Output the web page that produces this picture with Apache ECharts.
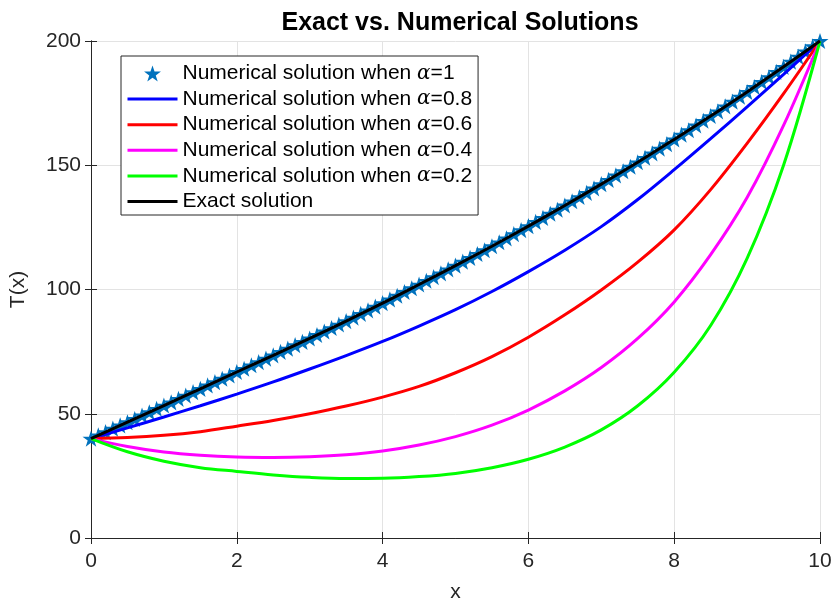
<!DOCTYPE html>
<html>
<head>
<meta charset="utf-8">
<script src="https://cdn.jsdelivr.net/npm/echarts@6/dist/echarts.min.js"></script>
<style>
  html, body { margin: 0; padding: 0; background: #fff; }
  #chart { width: 835px; height: 606px; }
</style>
</head>
<body>
<div id="chart"></div>
<script>
// x positions of the smooth curves
const curveX = [0, 0.5, 1, 1.5, 2, 2.5, 3, 3.5, 4, 4.5, 5, 5.5, 6, 6.5, 7, 7.5, 8, 8.5, 9, 9.5, 10];

// curves
const exactT  = [40, 46.6, 53.3, 60.0, 66.8, 73.5, 80.3, 87.3, 94.5, 102.0, 109.6, 117.4, 125.5, 133.8, 142.4, 151.2, 160.4, 169.8, 179.5, 189.6, 200];
const alpha08 = [40, 44.3, 48.7, 53.2, 57.9, 62.8, 68.0, 73.4, 79.1, 85.3, 91.9, 99.2, 107.2, 115.8, 125.3, 136.2, 148.2, 160.7, 173.5, 186.6, 200];
const alpha06 = [40, 40.4, 41.3, 42.8, 45.0, 47.3, 50.0, 53.1, 56.7, 61.0, 66.5, 73.0, 80.8, 89.8, 99.8, 111.0, 124.0, 140.2, 158.8, 178.8, 200];
const alpha04 = [40, 36.8, 34.6, 33.3, 32.6, 32.4, 32.7, 33.5, 35.0, 37.4, 40.8, 45.4, 51.5, 59.2, 68.6, 80.3, 95.0, 114.0, 137.0, 166.0, 200];
const alpha02 = [40, 34.7, 30.9, 28.3, 26.8, 25.4, 24.4, 23.9, 24.0, 24.7, 26.0, 28.3, 31.7, 36.6, 43.5, 53.2, 66.7, 85.5, 112.5, 150.0, 200];

// star markers (alpha = 1)
const starX = [0, 0.1, 0.2, 0.3, 0.4, 0.5, 0.6, 0.7, 0.8, 0.9, 1, 1.1, 1.2, 1.3, 1.4, 1.5, 1.6, 1.7, 1.8, 1.9,
  2, 2.1, 2.2, 2.3, 2.4, 2.5, 2.6, 2.7, 2.8, 2.9, 3, 3.1, 3.2, 3.3, 3.4, 3.5, 3.6, 3.7, 3.8, 3.9,
  4, 4.1, 4.2, 4.3, 4.4, 4.5, 4.6, 4.7, 4.8, 4.9, 5, 5.1, 5.2, 5.3, 5.4, 5.5, 5.6, 5.7, 5.8, 5.9,
  6, 6.1, 6.2, 6.3, 6.4, 6.5, 6.6, 6.7, 6.8, 6.9, 7, 7.1, 7.2, 7.3, 7.4, 7.5, 7.6, 7.7, 7.8, 7.9,
  8, 8.1, 8.2, 8.3, 8.4, 8.5, 8.6, 8.7, 8.8, 8.9, 9, 9.1, 9.2, 9.3, 9.4, 9.5, 9.6, 9.7, 9.8, 9.9, 10];
const starT = [40.0, 41.3, 42.6, 44.0, 45.3, 46.6, 47.9, 49.3, 50.6, 52.0, 53.3, 54.6, 56.0, 57.3, 58.7, 60.0, 61.4, 62.7, 64.1, 65.4,
  66.8, 68.1, 69.5, 70.8, 72.2, 73.5, 74.9, 76.2, 77.6, 78.9, 80.3, 81.7, 83.1, 84.5, 85.9, 87.3, 88.7, 90.2, 91.6, 93.1,
  94.5, 96.0, 97.5, 99.0, 100.5, 102.0, 103.5, 105.0, 106.5, 108.1, 109.6, 111.2, 112.7, 114.3, 115.8, 117.4, 119.0, 120.6, 122.3, 123.9,
  125.5, 127.2, 128.8, 130.5, 132.1, 133.8, 135.5, 137.2, 138.9, 140.7, 142.4, 144.1, 145.9, 147.6, 149.4, 151.2, 153.0, 154.8, 156.7, 158.5,
  160.4, 162.3, 164.1, 166.0, 167.9, 169.8, 171.7, 173.7, 175.6, 177.6, 179.5, 181.5, 183.5, 185.5, 187.6, 189.6, 191.7, 193.7, 195.8, 197.9, 200.0];

const names = [
  'Numerical solution when α=1',
  'Numerical solution when α=0.8',
  'Numerical solution when α=0.6',
  'Numerical solution when α=0.4',
  'Numerical solution when α=0.2',
  'Exact solution'
];

const STAR = 'path://M50,0 L61.8,35.6 L99,35.6 L69,57.5 L80.4,93 L50,71 L19.6,93 L31,57.5 L1,35.6 L38.2,35.6 Z';
const FONT = '"Liberation Sans", Arial, Helvetica, sans-serif';
const AXIS_COLOR = '#262626';

function pairs(xs, ys) {
  return xs.map((x, i) => [x, ys[i]]);
}

function curve(name, ys, color) {
  return {
    name: name,
    type: 'line',
    data: pairs(curveX, ys),
    smooth: 0.35,
    symbol: 'none',
    lineStyle: { color: color, width: 3 },
    itemStyle: { color: color }
  };
}

const axisCommon = {
  axisLine: { show: true, lineStyle: { color: AXIS_COLOR, width: 1 } },
  axisTick: { show: true, inside: true, length: 6, lineStyle: { color: AXIS_COLOR } }
};

const chart = echarts.init(document.getElementById('chart'), null, { renderer: 'canvas' });

chart.setOption({
  animation: false,
  backgroundColor: '#ffffff',
  title: {
    text: 'Exact vs. Numerical Solutions',
    left: 455,
    textAlign: 'center',
    top: 6,
    textStyle: { fontFamily: FONT, fontSize: 25, fontWeight: 'bold', color: '#000' }
  },
  legend: {
    orient: 'vertical',
    left: 121,
    top: 56,
    itemWidth: 50,
    itemHeight: 16,
    itemGap: 4.6,
    padding: [7, 6, 3, 5],
    borderColor: AXIS_COLOR,
    borderWidth: 1,
    backgroundColor: '#fff',
    lineStyle: { width: 3 },
    data: names.map((n, i) => (i === 0 ? { name: n } : { name: n, itemStyle: { opacity: 0 } })),
    formatter: name => name.replace('α', '{a|α}'),
    textStyle: {
      fontFamily: FONT, fontSize: 21, color: '#000', lineHeight: 20,
      rich: { a: { fontFamily: '"DejaVu Serif", serif', fontStyle: 'italic', fontSize: 20, color: '#000' } }
    }
  },
  grid: { left: 91, right: 15, top: 41, bottom: 68, containLabel: false, outerBoundsMode: 'none' },
  xAxis: [
    Object.assign({
      type: 'value', min: 0, max: 10, interval: 2,
      name: 'x', nameLocation: 'middle', nameGap: 44,
      nameTextStyle: { fontFamily: FONT, fontSize: 21, color: AXIS_COLOR },
      axisLabel: { fontFamily: FONT, fontSize: 21, color: AXIS_COLOR, margin: 13 },
      splitLine: { show: true, lineStyle: { color: '#e3e3e3', width: 1 } }
    }, axisCommon),
    Object.assign({
      type: 'value', min: 0, max: 10, interval: 2, position: 'top',
      axisLabel: { show: false }, splitLine: { show: false }
    }, axisCommon)
  ],
  yAxis: [
    Object.assign({
      type: 'value', min: 0, max: 200, interval: 50,
      name: 'T(x)', nameLocation: 'middle', nameGap: 62,
      nameTextStyle: { fontFamily: FONT, fontSize: 21, color: AXIS_COLOR },
      axisLabel: { fontFamily: FONT, fontSize: 21, color: AXIS_COLOR, margin: 10 },
      splitLine: { show: true, lineStyle: { color: '#e3e3e3', width: 1 } }
    }, axisCommon),
    Object.assign({
      type: 'value', min: 0, max: 200, interval: 50, position: 'right',
      axisLabel: { show: false }, splitLine: { show: false }
    }, axisCommon)
  ],
  series: [
    {
      name: names[0],
      type: 'scatter',
      data: pairs(starX, starT),
      symbol: STAR,
      symbolSize: 17,
      symbolKeepAspect: true,
      itemStyle: { color: '#0072BD', opacity: 1 }
    },
    curve(names[1], alpha08, '#0000FF'),
    curve(names[2], alpha06, '#FF0000'),
    curve(names[3], alpha04, '#FF00FF'),
    curve(names[4], alpha02, '#00FF00'),
    curve(names[5], exactT, '#000000')
  ]
});
</script>
</body>
</html>
